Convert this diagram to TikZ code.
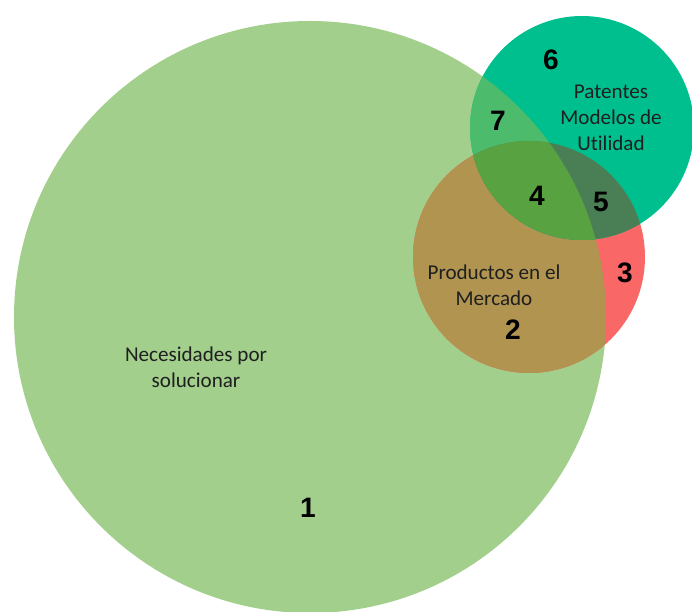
\documentclass[tikz,border=0pt]{standalone}
\usepackage{fontspec}
\setmainfont[Ligatures={NoCommon,NoRare,NoContextual}]{Carlito}
\newfontfamily\numfont{Liberation Sans}
% region colours
\definecolor{needgreen}{HTML}{A2CF8B}
\definecolor{prodred}{HTML}{F96767}
\definecolor{prodbrown}{HTML}{B09450}
\definecolor{patteal}{HTML}{00BF8E}
\definecolor{patgreen}{HTML}{4DBB6C}
\definecolor{allgreen}{HTML}{58A242}
\definecolor{patred}{HTML}{4A7F55}
% circles: centre x, centre y, radius (px)
\newcommand{\needs}{(310,295) circle (296)}
\newcommand{\products}{(529,355) circle (116)}
\newcommand{\patents}{(582,484) circle (112)}
\tikzset{
	txt/.style={font=\fontsize{15}{18.5}\selectfont, text=black!88, align=center},
	regnum/.style={font=\numfont\bfseries\fontsize{20}{24}\selectfont, text=black}
}

\begin{document}
\begin{tikzpicture}[x=0.025cm, y=0.025cm]
	\useasboundingbox (0,0) rectangle (692,612);
	% big circle and products circle
	\fill[needgreen] \needs;
	\fill[prodred] \products;
	\begin{scope}
		\clip \needs;
		\fill[prodbrown] \products;
	\end{scope}
	% patents circle on top
	\fill[patteal] \patents;
	\begin{scope}
		\clip \patents;
		\fill[patgreen] \needs;
		\fill[patred] \products;
		\clip \needs;
		\fill[allgreen] \products;
	\end{scope}
	
	\node[txt] (needs) at (196,245) {Necesidades por\\solucionar};
	\node[txt] (prod) at (494,327) {Productos en el\\Mercado};
	\node[txt] (pat) at (611,494) {Patentes\\Modelos de\\Utilidad};
	
	\node[regnum] (n1) at (308,104) {1};
	\node[regnum] (n2) at (513,282) {2};
	\node[regnum] (n3) at (625,339) {3};
	\node[regnum] (n4) at (537,416) {4};
	\node[regnum] (n5) at (601,410) {5};
	\node[regnum] (n6) at (551,552) {6};
	\node[regnum] (n7) at (498,491) {7};
\end{tikzpicture}
\end{document}
